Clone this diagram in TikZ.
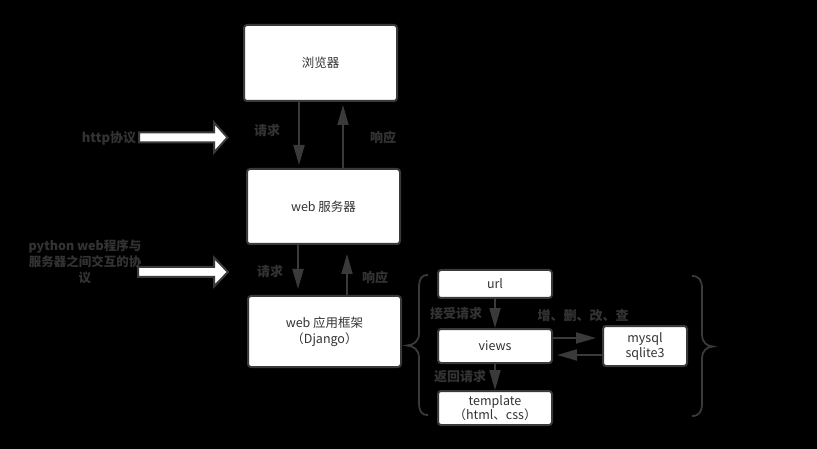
\documentclass[tikz,border=0pt]{standalone}
\usepackage{fontspec}
\setmainfont{Noto Sans CJK SC}
\usetikzlibrary{arrows.meta}
\definecolor{ink}{HTML}{333333}
\definecolor{edge}{HTML}{3A3A3A}
\tikzset{
  box/.style={draw=edge, line width=2pt, fill=white, rounded corners=3pt, inner sep=0pt, text=ink, font=\fontsize{12.5}{16}\selectfont, align=center},
  lbl/.style={text=ink, font=\fontsize{13}{16}\selectfont\bfseries, inner sep=0pt, align=center},
  arr/.style={draw=edge, line width=2pt, -{Triangle[length=20pt,width=11pt]}},
  hollow/.style={draw=edge, line width=2pt, fill=white, line join=miter},
  bracepath/.style={draw=edge, line width=1.8pt}
}
\begin{document}
\begin{tikzpicture}[x=1pt,y=-1pt]
\useasboundingbox[fill=black] (0,0) rectangle (817,449);
% main boxes
\node[box, minimum width=153pt, minimum height=76pt] (browser) at (320.5,63) {浏览器};
\node[box, minimum width=153pt, minimum height=75pt] (server) at (323.5,206.5) {web 服务器};
\node[box, minimum width=153pt, minimum height=71pt] (app) at (324.5,331.5) {web 应用框架\\（Django）};
% right boxes
\node[box, minimum width=114pt, minimum height=28pt] (url) at (495,284) {url};
\node[box, minimum width=114pt, minimum height=34pt] (views) at (495,346) {views};
\node[box, minimum width=114pt, minimum height=34pt, font=\fontsize{12.5}{14}\selectfont] (tpl) at (495,408) {template\\（html、css）};
\node[box, minimum width=84pt, minimum height=40pt, font=\fontsize{12.5}{15}\selectfont] (db) at (645,346) {mysql\\sqlite3};
% coordinates for arrows
\coordinate (a1s) at (299,101); \coordinate (a1e) at (299,165);
\coordinate (a2s) at (343,169); \coordinate (a2e) at (343,105);
\coordinate (a3s) at (298,244); \coordinate (a3e) at (298,289);
\coordinate (a4s) at (347,296); \coordinate (a4e) at (347,254);
\draw[arr] (a1s) -- (a1e);
\draw[arr] (a2s) -- (a2e);
\draw[arr] (a3s) -- (a3e);
\draw[arr] (a4s) -- (a4e);
\draw[arr] (url.south) -- (views.north);
\draw[arr] (views.south) -- (tpl.north);
\coordinate (v1) at (552,338); \coordinate (d1) at (596,338);
\coordinate (d2) at (603,355); \coordinate (v2) at (557,355);
\draw[arr] (v1) -- (d1);
\draw[arr] (d2) -- (v2);
% labels
\node[lbl] (q1) at (267,131) {请求};
\node[lbl] (r1) at (383,138) {响应};
\node[lbl] (q2) at (270,272) {请求};
\node[lbl] (r2) at (375,278) {响应};
\node[lbl] (js) at (456,314) {接受请求};
\node[lbl] (fh) at (460,377) {返回请求};
\node[lbl] (crud) at (583,316) {增、删、改、查};
\node[lbl] (http) at (109,138) {http协议};
\node[lbl, font=\fontsize{12.5}{16}\selectfont\bfseries] (py) at (85,261.5) {python web程序与\\服务器之间交互的协\\议};
% hollow arrows
\draw[hollow] (139,132.5) -- (214,132.5) -- (214,122.5) -- (227.5,137.5) -- (214,152.5) -- (214,142.5) -- (139,142.5) -- cycle;
\draw[hollow] (138,267) -- (214,267) -- (214,257.5) -- (228,272) -- (214,286.5) -- (214,277) -- (138,277) -- cycle;
% braces
\draw[bracepath] (428,275) .. controls (421,275) and (419,279) .. (419,288) -- (419,333) .. controls (419,342) and (413,345) .. (407,345.5) .. controls (413,346) and (419,349) .. (419,358) -- (419,402) .. controls (419,411) and (421,415) .. (428,415);
\draw[bracepath] (692,276) .. controls (699,276) and (702,280) .. (702,289) -- (702,334) .. controls (702,343) and (707,346) .. (713,346.5) .. controls (707,347) and (702,350) .. (702,359) -- (702,403) .. controls (702,412) and (699,416) .. (692,416);
\end{tikzpicture}
\end{document}
